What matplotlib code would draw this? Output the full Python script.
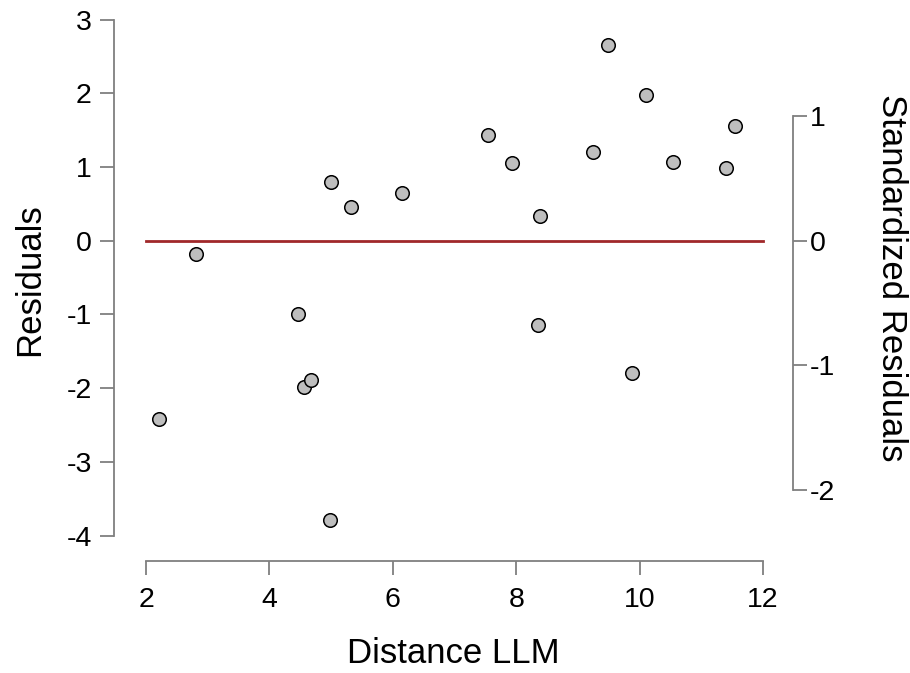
import numpy as np
import matplotlib.pyplot as plt

plt.rcParams['font.family'] = ['Liberation Sans', 'DejaVu Sans']

# residuals vs predictor
distance = [2.21, 2.81, 4.46, 4.56, 4.67, 4.98, 5.00, 5.32, 6.15, 7.54,
            7.93, 8.39, 8.36, 9.24, 9.49, 9.88, 10.10, 10.54, 11.40, 11.55]
residuals = [-2.42, -0.18, -0.99, -1.99, -1.89, -3.79, 0.80, 0.46, 0.65, 1.44,
             1.06, 0.34, -1.15, 1.21, 2.65, -1.80, 1.97, 1.07, 0.98, 1.55]
sigma = 1.689  # residual sd -> standardized scale

x_ticks = [2, 4, 6, 8, 10, 12]
y_ticks = [3, 2, 1, 0, -1, -2, -3, -4]
std_ticks = [1, 0, -1, -2]

fig = plt.figure(figsize=(9.1, 6.73), dpi=100)
ax = fig.add_axes([0.1253, 0.1664, 0.7462, 0.8113])

ax.plot([2, 12], [0, 0], color='#A0282A', lw=2, zorder=1)
ax.scatter(distance, residuals, s=95, facecolor='#BEBEBE', edgecolor='black',
           linewidth=1.1, zorder=3)

ax.set_xlim(1.481, 12.486)
ax.set_ylim(-4.346, 3.062)

ax2 = ax.twinx()
ax2.set_ylim(-4.346 / sigma, 3.062 / sigma)

spine_col = '#7F7F7F'
for a in (ax, ax2):
    for s in a.spines.values():
        s.set_visible(False)
        s.set_color(spine_col)
        s.set_linewidth(1.3)
    a.tick_params(length=10, width=1.3, color=spine_col, labelsize=20.5, pad=6)

ax.spines['left'].set_visible(True)
ax.spines['left'].set_bounds(-4, 3)
ax.spines['bottom'].set_visible(True)
ax.spines['bottom'].set_bounds(2, 12)
ax2.spines['right'].set_visible(True)
ax2.spines['right'].set_bounds(-2, 1)

ax.set_xticks(x_ticks)
ax.set_yticks(y_ticks)
ax.set_yticklabels([str(v) for v in y_ticks])
ax2.set_yticks(std_ticks)
ax2.set_yticklabels([str(v) for v in std_ticks])
ax2.tick_params(axis='y', pad=2)
ax.tick_params(axis='x', pad=9)

ax.set_xlabel('Distance LLM', fontsize=25)
ax.set_ylabel('Residuals', fontsize=25)
ax2.set_ylabel('Standardized Residuals', fontsize=25, rotation=270, va='center')
ax.xaxis.set_label_coords((453 - 114) / 679, -(637 - 561) / 546)
ax.yaxis.set_label_coords(-(114 - 46) / 679, (561 - 280) / 546)
ax2.yaxis.set_label_coords((891 - 114) / 679, (561 - 278) / 546)

fig.savefig('out.png', dpi=100)
